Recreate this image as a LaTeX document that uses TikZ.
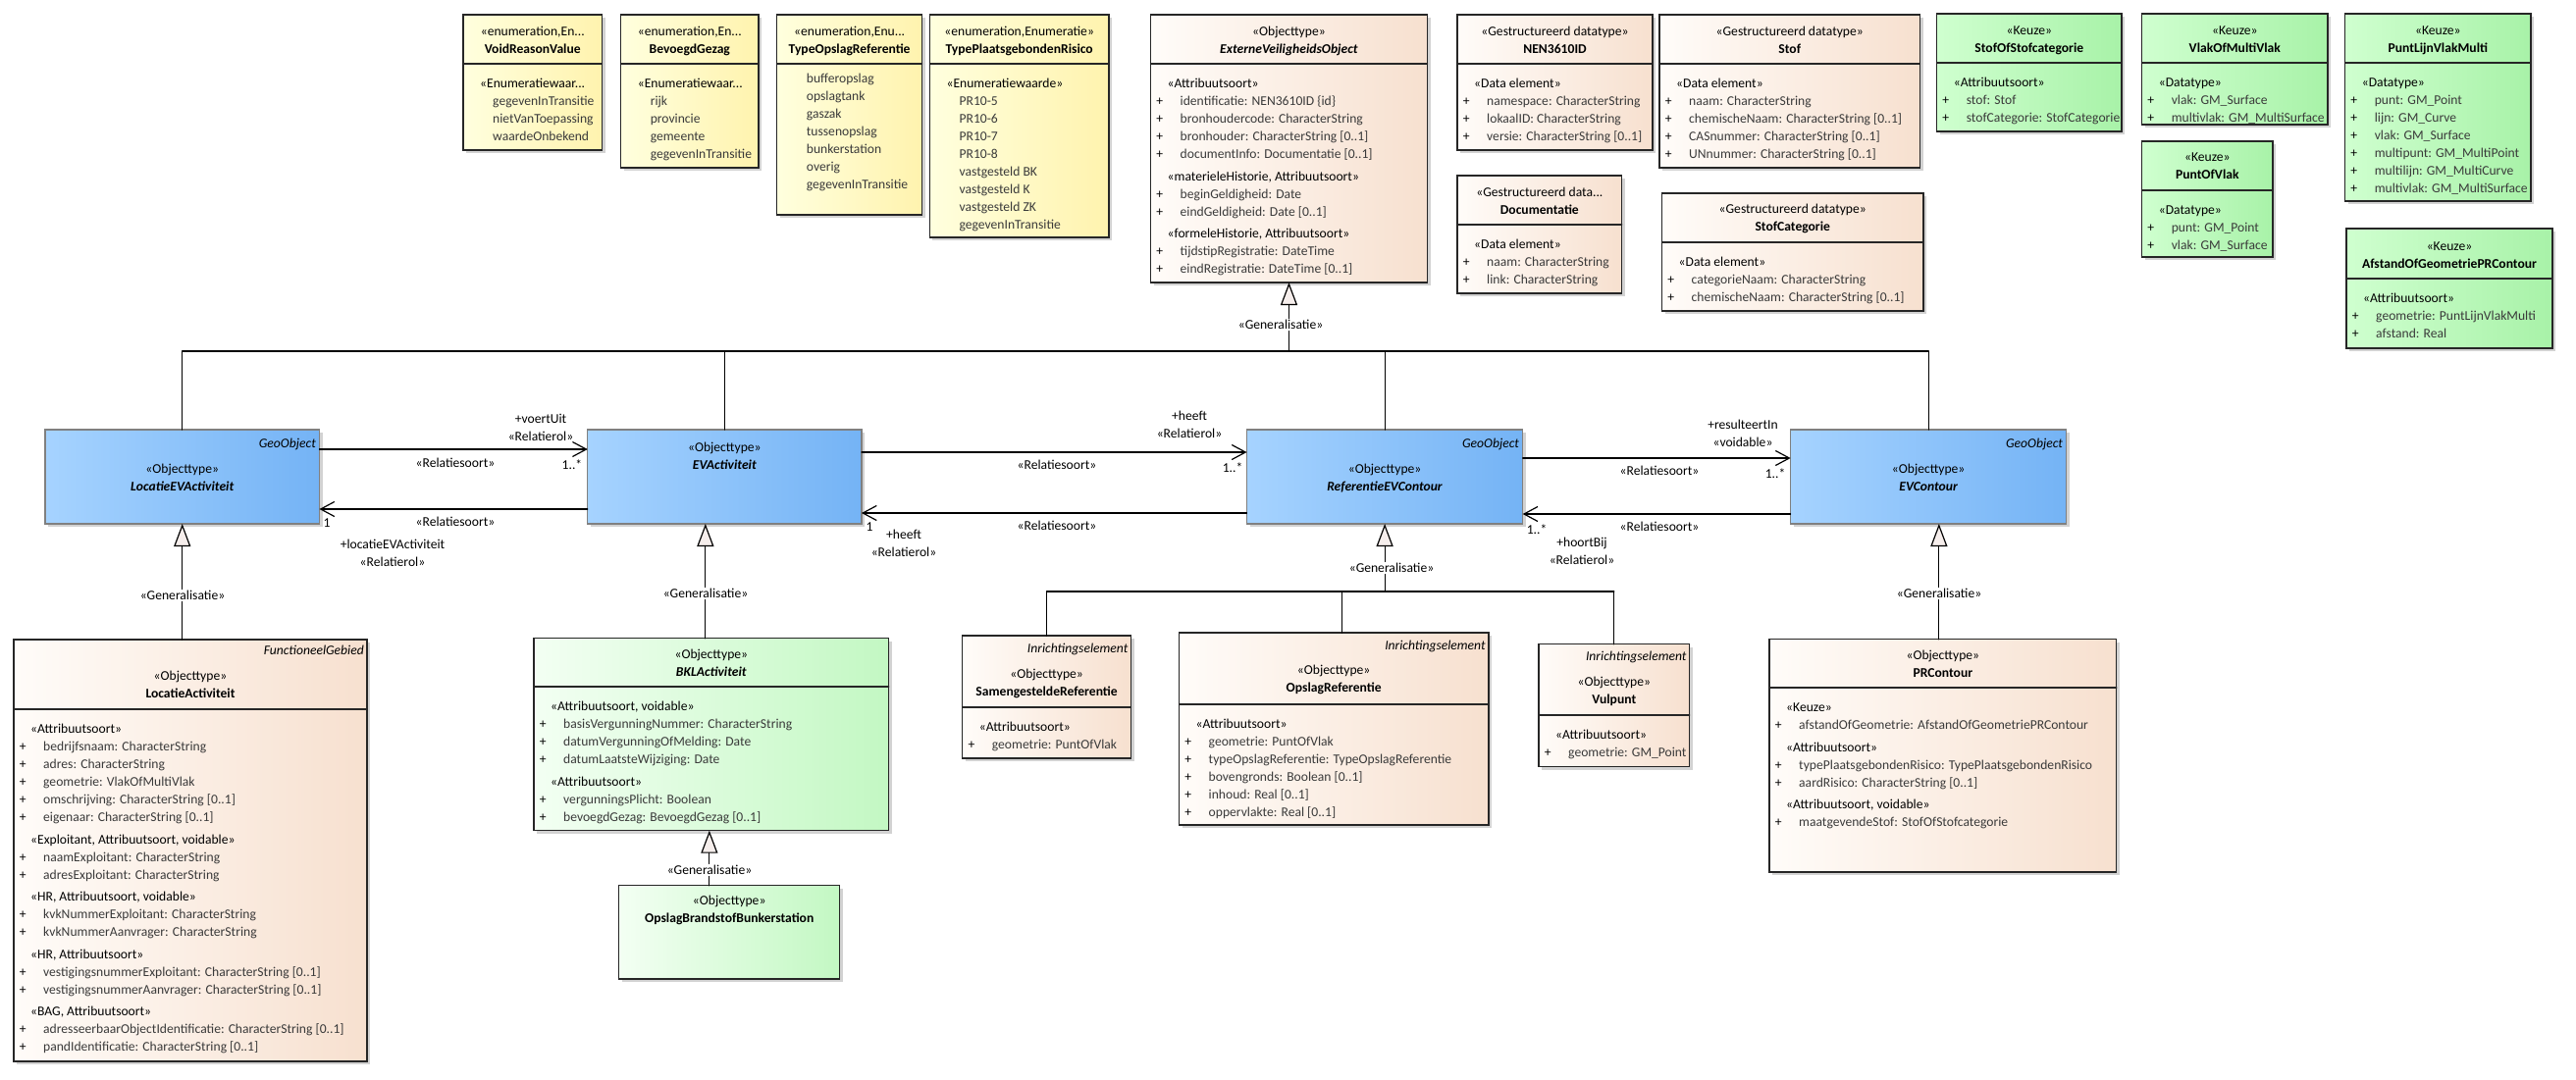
\documentclass[tikz,border=0pt]{standalone}
\usepackage{fontspec}
\setmainfont{Carlito}
\usetikzlibrary{arrows.meta,positioning}

\definecolor{enumL}{HTML}{FFFFDE}
\definecolor{enumR}{HTML}{FFF3AE}
\definecolor{objL}{HTML}{FFFCF9}
\definecolor{objR}{HTML}{F7E0CF}
\definecolor{keuzeL}{HTML}{CFFFCF}
\definecolor{keuzeR}{HTML}{A8F2A8}
\definecolor{bklL}{HTML}{F3FFF3}
\definecolor{bklR}{HTML}{C3F8C3}
\definecolor{geoL}{HTML}{A6D3FF}
\definecolor{geoR}{HTML}{74B3F5}
\definecolor{genfill}{HTML}{F6EEEC}
\definecolor{attrtext}{HTML}{3A3A3A}

\AtBeginDocument{\fontsize{13.6}{18}\selectfont}

% one text line of a class box, 18pt high
\newcommand\ls{\rule[-5pt]{0pt}{18pt}}
\newcommand\sect[1]{\ls\hspace*{15pt}#1}
\newcommand\attr[1]{\ls\makebox[14pt]{+}\hspace*{14pt}{\color{attrtext}#1}}
\newcommand\lit[1]{\ls\hspace*{28pt}{\color{attrtext}#1}}

% class box with drop shadow: style, name, x1, y1, x2, y2
\newcommand\umlbox[6]{%
  \fill[gray!35] (#3+3,#4+3) rectangle (#5+3,#6+3);
  \node[#1, anchor=north west, minimum width={(#5-#3)*1pt},
    minimum height={(#6-#4)*1pt}] (#2) at (#3,#4) {};}

\begin{document}
\begin{tikzpicture}[x=1pt, y=-1pt, line cap=round,
  box/.style={draw=black!85, line width=1.4pt, inner sep=0pt, outer sep=0pt},
  enumbox/.style={box, left color=enumL, right color=enumR},
  objbox/.style={box, left color=objL, right color=objR},
  keuzebox/.style={box, left color=keuzeL, right color=keuzeR},
  bklbox/.style={box, left color=bklL, right color=bklR},
  geobox/.style={box, draw=black!50, line width=1.1pt, left color=geoL, right color=geoR},
  divider/.style={draw=black!85, line width=1.4pt},
  hdr/.style={inner sep=0pt, align=center},
  body/.style={inner sep=0pt, align=left},
  parent/.style={inner sep=0pt, font=\itshape},
  lbl/.style={inner sep=0pt, align=center},
  genlbl/.style={fill=white, inner sep=1pt},
  conn/.style={line width=1.2pt},
  gen/.style={conn, -{Triangle[length=23pt,width=17pt,fill=genfill]}},
  assoc/.style={conn, -{Straight Barb[length=14pt,width=15pt]}}]

  \fill[white] (0,0) rectangle (2625,1100);
  \useasboundingbox (0,0) rectangle (2625,1100);

  % enumerations
  \umlbox{enumbox}{vrv}{472}{15}{613.5}{153}
  \umlbox{enumbox}{bg}{632.6}{15}{773}{171}
  \umlbox{enumbox}{tor}{791.7}{15}{939.6}{219}
  \umlbox{enumbox}{tpr}{947.4}{15}{1130}{242}
  % object and data types
  \umlbox{objbox}{evo}{1172.5}{15}{1454.5}{288}
  \umlbox{objbox}{nen}{1485}{15}{1684}{153}
  \umlbox{objbox}{stof}{1691}{15}{1956.5}{171}
  \umlbox{objbox}{doc}{1485}{179}{1652.7}{299}
  \umlbox{objbox}{stc}{1693.5}{197}{1960}{317}
  % keuze types
  \umlbox{keuzebox}{sos}{1973.6}{14}{2162}{134}
  \umlbox{keuzebox}{vomv}{2182.6}{14}{2372}{127}
  \umlbox{keuzebox}{pov}{2182.6}{144}{2316}{262}
  \umlbox{keuzebox}{plvm}{2389.6}{14}{2579}{205}
  \umlbox{keuzebox}{aog}{2391}{233}{2601}{355}
  % GeoObject row
  \umlbox{geobox}{lea}{46}{438}{325.5}{534}
  \umlbox{geobox}{eva}{598.7}{438}{878}{534}
  \umlbox{geobox}{rec}{1270.5}{438}{1551.7}{534}
  \umlbox{geobox}{evc}{1824.6}{438}{2105.7}{534}
  % bottom row
  \umlbox{objbox}{la}{14}{652}{374}{1082}
  \umlbox{bklbox}{bkl}{544}{650.7}{905.7}{846.7}
  \umlbox{bklbox}{obb}{630.7}{902.7}{855.7}{998}
  \umlbox{objbox}{sgr}{980.7}{648}{1152.5}{773}
  \umlbox{objbox}{opr}{1201.5}{645}{1516.8}{841}
  \umlbox{objbox}{vp}{1568}{656.7}{1721.6}{781.7}
  \umlbox{objbox}{prc}{1803}{651.7}{2156.7}{889}

  \foreach \n/\d in {vrv/65, bg/65, tor/65, tpr/65, evo/65, nen/65, stof/65,
      doc/229, stc/247, sos/64, vomv/64, pov/194, plvm/64, aog/284,
      la/723, bkl/700, sgr/721, opr/718, vp/729, prc/701} {
    \coordinate (\n-d) at (\n.west |- 0,\d);
    \draw[divider] (\n-d) -- (\n.east |- 0,\d);
  }

  % headers
  \node[hdr, below=8.5pt of vrv.north] (vrv-h) {\ls«enumeration,En...\\\ls\textbf{VoidReasonValue}};
  \node[hdr, below=8.5pt of bg.north] (bg-h) {\ls«enumeration,En...\\\ls\textbf{BevoegdGezag}};
  \node[hdr, below=8.5pt of tor.north] (tor-h) {\ls«enumeration,Enu...\\\ls\textbf{TypeOpslagReferentie}};
  \node[hdr, below=8.5pt of tpr.north] (tpr-h) {\ls«enumeration,Enumeratie»\\\ls\textbf{TypePlaatsgebondenRisico}};
  \node[hdr, below=8.5pt of evo.north] (evo-h) {\ls«Objecttype»\\\ls\textbf{\textit{ExterneVeiligheidsObject}}};
  \node[hdr, below=8.5pt of nen.north] (nen-h) {\ls«Gestructureerd datatype»\\\ls\textbf{NEN3610ID}};
  \node[hdr, below=8.5pt of stof.north] (stof-h) {\ls«Gestructureerd datatype»\\\ls\textbf{Stof}};
  \node[hdr, below=8.5pt of doc.north] (doc-h) {\ls«Gestructureerd data...\\\ls\textbf{Documentatie}};
  \node[hdr, below=7.5pt of stc.north] (stc-h) {\ls«Gestructureerd datatype»\\\ls\textbf{StofCategorie}};
  \node[hdr, below=8.5pt of sos.north] (sos-h) {\ls«Keuze»\\\ls\textbf{StofOfStofcategorie}};
  \node[hdr, below=8.5pt of vomv.north] (vomv-h) {\ls«Keuze»\\\ls\textbf{VlakOfMultiVlak}};
  \node[hdr, below=7.5pt of pov.north] (pov-h) {\ls«Keuze»\\\ls\textbf{PuntOfVlak}};
  \node[hdr, below=8.5pt of plvm.north] (plvm-h) {\ls«Keuze»\\\ls\textbf{PuntLijnVlakMulti}};
  \node[hdr, below=9.5pt of aog.north] (aog-h) {\ls«Keuze»\\\ls\textbf{AfstandOfGeometriePRContour}};
  \node[hdr, below=31.5pt of lea.north] (lea-h) {\ls«Objecttype»\\\ls\textbf{\textit{LocatieEVActiviteit}}};
  \node[hdr, below=9.5pt of eva.north] (eva-h) {\ls«Objecttype»\\\ls\textbf{\textit{EVActiviteit}}};
  \node[hdr, below=31.5pt of rec.north] (rec-h) {\ls«Objecttype»\\\ls\textbf{\textit{ReferentieEVContour}}};
  \node[hdr, below=31.5pt of evc.north] (evc-h) {\ls«Objecttype»\\\ls\textbf{\textit{EVContour}}};
  \node[hdr, below=28.5pt of la.north] (la-h) {\ls«Objecttype»\\\ls\textbf{LocatieActiviteit}};
  \node[hdr, below=7.5pt of bkl.north] (bkl-h) {\ls«Objecttype»\\\ls\textbf{\textit{BKLActiviteit}}};
  \node[hdr, below=6.5pt of obb.north] (obb-h) {\ls«Objecttype»\\\ls\textbf{OpslagBrandstofBunkerstation}};
  \node[hdr, below=30.5pt of sgr.north] (sgr-h) {\ls«Objecttype»\\\ls\textbf{SamengesteldeReferentie}};
  \node[hdr, below=29.5pt of opr.north] (opr-h) {\ls«Objecttype»\\\ls\textbf{OpslagReferentie}};
  \node[hdr, below=29.5pt of vp.north] (vp-h) {\ls«Objecttype»\\\ls\textbf{Vulpunt}};
  \node[hdr, below=7.5pt of prc.north] (prc-h) {\ls«Objecttype»\\\ls\textbf{PRContour}};

  % supertype tags
  \foreach \n in {lea,rec,evc}
    \node[parent, below left=5.5pt and 3.5pt of \n.north east] (\n-p) {\ls GeoObject};
  \node[parent, below left=2.5pt and 3pt of la.north east] (la-p) {\ls FunctioneelGebied};
  \foreach \n in {sgr,opr,vp}
    \node[parent, below left=4pt and 3pt of \n.north east] (\n-p) {\ls Inrichtingselement};

  % compartments
  \node[body, below right=11.5pt and 2pt of vrv-d] (vrv-b) {\sect{«Enumeratiewaar...}\\
    \lit{gegevenInTransitie}\\\lit{nietVanToepassing}\\\lit{waardeOnbekend}};
  \node[body, below right=11.5pt and 2pt of bg-d] (bg-b) {\sect{«Enumeratiewaar...}\\
    \lit{rijk}\\\lit{provincie}\\\lit{gemeente}\\\lit{gegevenInTransitie}};
  \node[body, below right=6.5pt and 2pt of tor-d] (tor-b) {\lit{bufferopslag}\\\lit{opslagtank}\\
    \lit{gaszak}\\\lit{tussenopslag}\\\lit{bunkerstation}\\\lit{overig}\\\lit{gegevenInTransitie}};
  \node[body, below right=11.5pt and 2pt of tpr-d] (tpr-b) {\sect{«Enumeratiewaarde»}\\
    \lit{PR10-5}\\\lit{PR10-6}\\\lit{PR10-7}\\\lit{PR10-8}\\\lit{vastgesteld BK}\\
    \lit{vastgesteld K}\\\lit{vastgesteld ZK}\\\lit{gegevenInTransitie}};
  \node[body, below right=11.5pt and 2pt of evo-d] (evo-b) {\sect{«Attribuutsoort»}\\
    \attr{identificatie: NEN3610ID \{id\}}\\
    \attr{bronhoudercode: CharacterString}\\
    \attr{bronhouder: CharacterString [0..1]}\\
    \attr{documentInfo: Documentatie [0..1]}\\[4.5pt]
    \sect{«materieleHistorie, Attribuutsoort»}\\
    \attr{beginGeldigheid: Date}\\
    \attr{eindGeldigheid: Date [0..1]}\\[4.5pt]
    \sect{«formeleHistorie, Attribuutsoort»}\\
    \attr{tijdstipRegistratie: DateTime}\\
    \attr{eindRegistratie: DateTime [0..1]}};
  \node[body, below right=11.5pt and 2pt of nen-d] (nen-b) {\sect{«Data element»}\\
    \attr{namespace: CharacterString}\\\attr{lokaalID: CharacterString}\\
    \attr{versie: CharacterString [0..1]}};
  \node[body, below right=11.5pt and 2pt of stof-d] (stof-b) {\sect{«Data element»}\\
    \attr{naam: CharacterString}\\\attr{chemischeNaam: CharacterString [0..1]}\\
    \attr{CASnummer: CharacterString [0..1]}\\\attr{UNnummer: CharacterString [0..1]}};
  \node[body, below right=11.5pt and 2pt of doc-d] (doc-b) {\sect{«Data element»}\\
    \attr{naam: CharacterString}\\\attr{link: CharacterString}};
  \node[body, below right=11.5pt and 2pt of stc-d] (stc-b) {\sect{«Data element»}\\
    \attr{categorieNaam: CharacterString}\\\attr{chemischeNaam: CharacterString [0..1]}};
  \node[body, below right=11.5pt and 2pt of sos-d] (sos-b) {\sect{«Attribuutsoort»}\\
    \attr{stof: Stof}\\\attr{stofCategorie: StofCategorie}};
  \node[body, below right=11.5pt and 2pt of vomv-d] (vomv-b) {\sect{«Datatype»}\\
    \attr{vlak: GM\_Surface}\\\attr{multivlak: GM\_MultiSurface}};
  \node[body, below right=11.5pt and 2pt of pov-d] (pov-b) {\sect{«Datatype»}\\
    \attr{punt: GM\_Point}\\\attr{vlak: GM\_Surface}};
  \node[body, below right=11.5pt and 2pt of plvm-d] (plvm-b) {\sect{«Datatype»}\\
    \attr{punt: GM\_Point}\\\attr{lijn: GM\_Curve}\\\attr{vlak: GM\_Surface}\\
    \attr{multipunt: GM\_MultiPoint}\\\attr{multilijn: GM\_MultiCurve}\\
    \attr{multivlak: GM\_MultiSurface}};
  \node[body, below right=11.5pt and 2pt of aog-d] (aog-b) {\sect{«Attribuutsoort»}\\
    \attr{geometrie: PuntLijnVlakMulti}\\\attr{afstand: Real}};
  \node[body, below right=11.5pt and 2pt of la-d] (la-b) {\sect{«Attribuutsoort»}\\
    \attr{bedrijfsnaam: CharacterString}\\
    \attr{adres: CharacterString}\\
    \attr{geometrie: VlakOfMultiVlak}\\
    \attr{omschrijving: CharacterString [0..1]}\\
    \attr{eigenaar: CharacterString [0..1]}\\[4.5pt]
    \sect{«Exploitant, Attribuutsoort, voidable»}\\
    \attr{naamExploitant: CharacterString}\\
    \attr{adresExploitant: CharacterString}\\[4.5pt]
    \sect{«HR, Attribuutsoort, voidable»}\\
    \attr{kvkNummerExploitant: CharacterString}\\
    \attr{kvkNummerAanvrager: CharacterString}\\[4.5pt]
    \sect{«HR, Attribuutsoort»}\\
    \attr{vestigingsnummerExploitant: CharacterString [0..1]}\\
    \attr{vestigingsnummerAanvrager: CharacterString [0..1]}\\[4.5pt]
    \sect{«BAG, Attribuutsoort»}\\
    \attr{adresseerbaarObjectIdentificatie: CharacterString [0..1]}\\
    \attr{pandIdentificatie: CharacterString [0..1]}};
  \node[body, below right=11.5pt and 2pt of bkl-d] (bkl-b) {\sect{«Attribuutsoort, voidable»}\\
    \attr{basisVergunningNummer: CharacterString}\\
    \attr{datumVergunningOfMelding: Date}\\
    \attr{datumLaatsteWijziging: Date}\\[4.5pt]
    \sect{«Attribuutsoort»}\\
    \attr{vergunningsPlicht: Boolean}\\
    \attr{bevoegdGezag: BevoegdGezag [0..1]}};
  \node[body, below right=11.5pt and 2pt of sgr-d] (sgr-b) {\sect{«Attribuutsoort»}\\
    \attr{geometrie: PuntOfVlak}};
  \node[body, below right=11.5pt and 2pt of opr-d] (opr-b) {\sect{«Attribuutsoort»}\\
    \attr{geometrie: PuntOfVlak}\\
    \attr{typeOpslagReferentie: TypeOpslagReferentie}\\
    \attr{bovengronds: Boolean [0..1]}\\
    \attr{inhoud: Real [0..1]}\\
    \attr{oppervlakte: Real [0..1]}};
  \node[body, below right=11.5pt and 2pt of vp-d] (vp-b) {\sect{«Attribuutsoort»}\\
    \attr{geometrie: GM\_Point}};
  \node[body, below right=11.5pt and 2pt of prc-d] (prc-b) {\sect{«Keuze»}\\
    \attr{afstandOfGeometrie: AfstandOfGeometriePRContour}\\[4.5pt]
    \sect{«Attribuutsoort»}\\
    \attr{typePlaatsgebondenRisico: TypePlaatsgebondenRisico}\\
    \attr{aardRisico: CharacterString [0..1]}\\[4.5pt]
    \sect{«Attribuutsoort, voidable»}\\
    \attr{maatgevendeStof: StofOfStofcategorie}};

  % generalisation to ExterneVeiligheidsObject
  \coordinate (bus) at (evo.south |- 0,358);
  \draw[conn] (lea.north |- bus) -- (evc.north |- bus);
  \foreach \n in {lea,eva,rec,evc} \draw[conn] (\n.north) -- (\n.north |- bus);
  \draw[gen] (bus) -- (evo.south);
  \node[genlbl] (evo-g) at (1305,331) {«Generalisatie»};

  % other generalisations
  \draw[gen] (la.north -| lea.south) -- (lea.south);
  \node[genlbl] (lea-g) at (186,607) {«Generalisatie»};
  \coordinate (bkltop) at ([xshift=-6pt]bkl.north);
  \draw[gen] (bkltop) -- (bkltop |- eva.south);
  \node[genlbl] (eva-g) at (719,605) {«Generalisatie»};
  \coordinate (bklfoot) at ([xshift=-2pt]bkl.south);
  \draw[gen] (bklfoot |- obb.north) -- (bklfoot);
  \node[genlbl] (bkl-g) at (723,887) {«Generalisatie»};
  \coordinate (prctop) at ([xshift=-4pt]prc.north);
  \draw[gen] (prctop) -- (prctop |- evc.south);
  \node[genlbl] (evc-g) at (1976,605) {«Generalisatie»};

  \coordinate (rbus) at (rec.south |- 0,603);
  \coordinate (oprtop) at ([xshift=8pt]opr.north);
  \draw[conn] (sgr.north |- rbus) -- (vp.north |- rbus);
  \draw[conn] (sgr.north) -- (sgr.north |- rbus);
  \draw[conn] (oprtop) -- (oprtop |- rbus);
  \draw[conn] (vp.north) -- (vp.north |- rbus);
  \draw[gen] (rbus) -- (rec.south);
  \node[genlbl] (rec-g) at (1418,579) {«Generalisatie»};

  % associations
  \draw[assoc] (lea.east |- 0,458) -- (eva.west |- 0,458);
  \draw[assoc] (eva.west |- 0,519) -- (lea.east |- 0,519);
  \draw[assoc] (eva.east |- 0,461) -- (rec.west |- 0,461);
  \draw[assoc] (rec.west |- 0,523) -- (eva.east |- 0,523);
  \draw[assoc] (rec.east |- 0,467) -- (evc.west |- 0,467);
  \draw[assoc] (evc.west |- 0,524) -- (rec.east |- 0,524);

  \node[lbl] (uit-r) at (551,436.5) {\ls+voertUit\\\ls«Relatierol»};
  \node[lbl] (uit-s) at (464,472) {\ls«Relatiesoort»};
  \node[lbl] (uit-m) at (583,474) {\ls 1..*};
  \node[lbl] (loc-s) at (464,532) {\ls«Relatiesoort»};
  \node[lbl] (loc-m) at (333,533) {\ls 1};
  \node[lbl] (loc-r) at (400,564.5) {\ls+locatieEVActiviteit\\\ls«Relatierol»};
  \node[lbl] (hf1-r) at (1212,433.5) {\ls+heeft\\\ls«Relatierol»};
  \node[lbl] (hf1-s) at (1077,474) {\ls«Relatiesoort»};
  \node[lbl] (hf1-m) at (1256,477) {\ls 1..*};
  \node[lbl] (hf2-s) at (1077,536) {\ls«Relatiesoort»};
  \node[lbl] (hf2-m) at (886,537) {\ls 1};
  \node[lbl] (hf2-r) at (921,554.5) {\ls+heeft\\\ls«Relatierol»};
  \node[lbl] (res-r) at (1776,442) {\ls+resulteertIn\\\ls«voidable»};
  \node[lbl] (res-s) at (1691,480) {\ls«Relatiesoort»};
  \node[lbl] (res-m) at (1809,483) {\ls 1..*};
  \node[lbl] (hb-s) at (1691,537) {\ls«Relatiesoort»};
  \node[lbl] (hb-m) at (1566,540) {\ls 1..*};
  \node[lbl] (hb-r) at (1612,562.5) {\ls+hoortBij\\\ls«Relatierol»};
\end{tikzpicture}
\end{document}
